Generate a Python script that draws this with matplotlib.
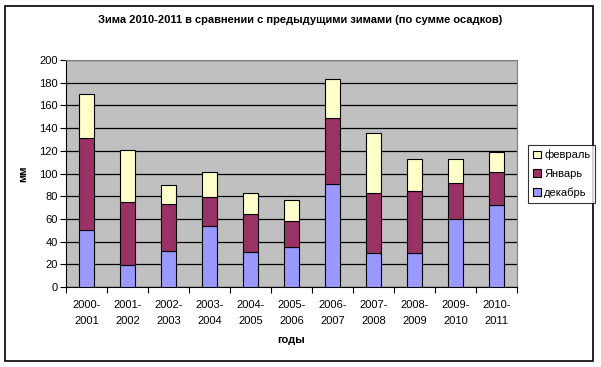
import matplotlib.pyplot as plt
import numpy as np
from matplotlib.patches import Rectangle

plt.rcParams['font.family'] = ['Liberation Sans', 'DejaVu Sans']

seasons = ["2000-\n2001", "2001-\n2002", "2002-\n2003", "2003-\n2004", "2004-\n2005",
           "2005-\n2006", "2006-\n2007", "2007-\n2008", "2008-\n2009", "2009-\n2010",
           "2010-\n2011"]
december = [50, 19, 32, 54, 31, 35, 91, 30, 30, 60, 72]
january = [81, 56, 41, 25, 33, 23, 58, 53, 55, 32, 29]
february = [39, 46, 17, 22, 19, 19, 34, 53, 28, 21, 18]

W, H = 601, 367
fig = plt.figure(figsize=(W / 100, H / 100), dpi=100)
# outer chart border
fig.patches.append(Rectangle((5 / W, 6 / H), 588 / W, 355 / H, transform=fig.transFigure,
                             fill=False, edgecolor="black", linewidth=1.2))

ax = fig.add_axes([66 / W, (H - 287) / H, 451 / W, 227 / H])
ax.set_facecolor("#C0C0C0")

x = np.arange(len(seasons))
dec = np.array(december)
jan = np.array(january)
feb = np.array(february)
w = 0.39
b1 = ax.bar(x, dec, w, color="#9999FF", edgecolor="black", linewidth=0.8, label="декабрь", zorder=3)
b2 = ax.bar(x, jan, w, bottom=dec, color="#993366", edgecolor="black", linewidth=0.8, label="Январь", zorder=3)
b3 = ax.bar(x, feb, w, bottom=dec + jan, color="#FFFFCC", edgecolor="black", linewidth=0.8, label="февраль", zorder=3)

ax.set_xlim(-0.5, len(seasons) - 0.5)
ax.set_ylim(0, 200)
ax.set_yticks(range(0, 201, 20))
ax.yaxis.grid(True, color="black", linewidth=0.9, zorder=1)
ax.set_axisbelow(True)

ax.set_xticks(np.arange(-0.5, len(seasons), 1.0))
ax.set_xticklabels([])
ax.set_xticks(x, minor=True)
ax.set_xticklabels(seasons, minor=True, fontsize=8, linespacing=1.75)
ax.tick_params(axis="x", which="minor", length=0, pad=9)
ax.tick_params(axis="x", which="major", length=4, direction="out", width=0.8)
ax.tick_params(axis="y", labelsize=8, length=4, width=0.8, pad=2)

for side in ["top", "right"]:
    ax.spines[side].set_color("#808080")
for side in ["left", "bottom"]:
    ax.spines[side].set_color("black")

ax.set_ylabel("мм", fontsize=8, fontweight="bold", labelpad=8)
ax.set_xlabel("годы", fontsize=8, fontweight="bold", labelpad=7)
fig.text(0.5, (H - 20) / H, "Зима 2010-2011 в сравнении с предыдущими зимами (по сумме осадков)",
         ha="center", va="center", fontsize=8, fontweight="bold")

leg = fig.legend(handles=[b3, b2, b1], labels=["февраль", "Январь", "декабрь"],
                 loc="upper left", bbox_to_anchor=(528 / W, (H - 145) / H),
                 fontsize=8, frameon=True, fancybox=False, edgecolor="black",
                 handlelength=0.7, handleheight=0.7, handletextpad=0.3,
                 labelspacing=0.75, borderpad=0.45, borderaxespad=0)
leg.get_frame().set_linewidth(0.8)

fig.savefig("out.png", dpi=100)
